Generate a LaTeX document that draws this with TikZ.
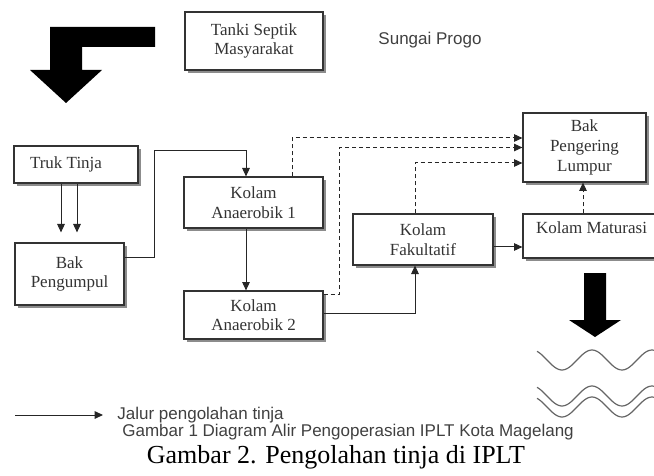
\documentclass[tikz,border=0pt]{standalone}
\usepackage{fontspec}
\setmainfont{Liberation Serif}
\newfontfamily\sansfont{Liberation Sans}
\usetikzlibrary{arrows.meta,shadows}

\begin{document}
\begin{tikzpicture}[x=0.5pt, y=-0.5pt,
        box/.style={draw=black!80, fill=white, line width=0.6pt, align=center, inner sep=0pt,
          font=\fontsize{8.5}{9.8}\selectfont, text=black!80,
          drop shadow={shadow xshift=1.3pt, shadow yshift=-1.3pt, fill=black!45, opacity=1}},
        flow/.style={-{Triangle[length=4.2pt,width=3.8pt]}, black!85, line width=0.5pt},
        sludge/.style={flow, dash pattern=on 2pt off 1.5pt},
        wave/.style={black!60, line width=0.6pt},
        sans/.style={font=\sansfont\fontsize{8.5}{10}\selectfont, text=black!75, inner sep=0pt}]
        \useasboundingbox (0,0) rectangle (654,476);
        \fill (155,27) -- (50,27) -- (50,70) -- (30,70) -- (66,103) -- (102,70) -- (82,70) -- (82,47) -- (155,47) -- cycle;
        \node[box, minimum width=69pt, minimum height=29pt] (tanki) at (254,41) {Tanki Septik\\Masyarakat};
        \node[sans] (sungai) at (430,40) {Sungai Progo};
        \node[box, minimum width=62pt, minimum height=18.5pt] (truk) at (76,164.5) {Truk Tinja\hspace*{10pt}};
        \node[box, minimum width=54.5pt, minimum height=31pt] (pengumpul) at (69.5,274) {Bak\\Pengumpul};
        \node[box, minimum width=69.5pt, minimum height=25.5pt] (anaerob1) at (253.5,202.5) {Kolam\\Anaerobik 1};
        \node[box, minimum width=69.5pt, minimum height=24pt] (anaerob2) at (253.5,315) {Kolam\\Anaerobik 2};
        \node[box, minimum width=70pt, minimum height=25.5pt] (fakultatif) at (423,239.5) {Kolam\\Fakultatif};
        \node[box, minimum width=68.5pt, minimum height=22pt] (maturasi) at (591.5,236) {Kolam Maturasi\\[-4pt]\strut};
        \node[box, minimum width=61.5pt, minimum height=34.5pt] (pengering) at (584.5,147.5) {Bak\\Pengering\\Lumpur};
        \draw[flow, shorten >=5pt] ([xshift=-7.5pt]truk.south) -- ([xshift=-7.5pt]truk.south |- pengumpul.north);
        \draw[flow, shorten >=5pt] ([xshift=0.5pt]truk.south) -- ([xshift=0.5pt]truk.south |- pengumpul.north);
        \draw[flow] ([yshift=8pt]pengumpul.east) -- ++(30,0) |- ([xshift=-3.75pt,yshift=13pt]anaerob1.north) -- ([xshift=-3.75pt]anaerob1.north);
        \draw[flow] ([xshift=-3.75pt]anaerob1.south) -- ([xshift=-3.75pt]anaerob2.north);
        \draw[flow] ([yshift=1pt]anaerob2.east) -| ([xshift=-4pt]fakultatif.south);
        \draw[flow] ([yshift=-3.75pt]fakultatif.east) -- ([yshift=-3.75pt]fakultatif.east -| maturasi.west);
        \draw[sludge] ([xshift=19.25pt]anaerob1.north) |- ([yshift=4.75pt]pengering.west);
        \draw[sludge] ([yshift=10.5pt]anaerob2.east) -- ++(16,0) |- (pengering.west);
        \draw[sludge] ([xshift=-4pt]fakultatif.north) |- ([yshift=-7.75pt]pengering.west);
        \draw[sludge] ([xshift=-4.25pt]maturasi.north) -- ([xshift=-4.25pt]maturasi.north |- pengering.south);
        \fill (584,273) -- (606,273) -- (606,320) -- (621,320) -- (595,337) -- (569,320) -- (584,320) -- cycle;
        \draw[wave] plot[domain=537:654, samples=60, smooth] (\x, {360-10*cos((\x-592)*6)});
        \draw[wave] plot[domain=537:654, samples=60, smooth] (\x, {396-10*cos((\x-592)*6)});
        \draw[wave] plot[domain=537:654, samples=60, smooth] (\x, {407-10*cos((\x-592)*6)});
        \coordinate (legstart) at (15,415);
        \node[sans, anchor=west] (jalur) at (117,415) {Jalur pengolahan tinja};
        \draw[flow] (legstart) -- ([xshift=-7pt]jalur.west);
        \node[sans, anchor=west] (gambar1) at (122,432) {Gambar 1 Diagram Alir Pengoperasian IPLT Kota Magelang};
        \node[font=\fontsize{13}{15}\selectfont] (caption) at (336,457) {Gambar 2. Pengolahan tinja di IPLT};
\end{tikzpicture}
\end{document}
